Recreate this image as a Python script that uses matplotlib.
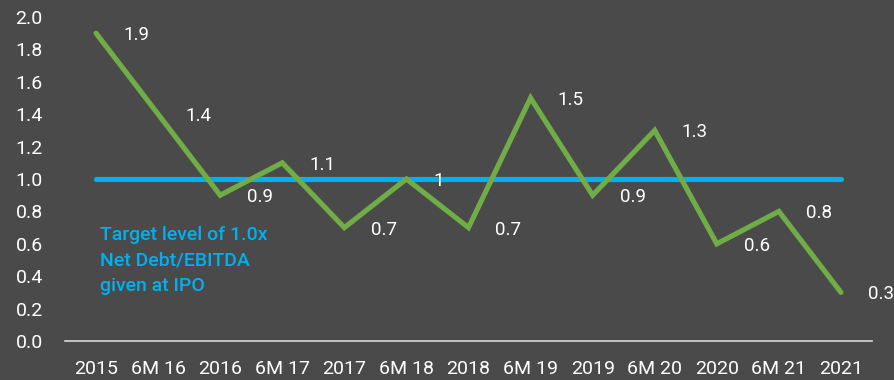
import matplotlib
matplotlib.use('Agg')
import matplotlib.pyplot as plt
from matplotlib.transforms import offset_copy

BG = '#4a4a4a'
C_LINE = '#70AD47'
C_TARGET = '#00B0F0'
C_TEXT = '#FFFFFF'
C_AXIS = '#D9D9D9'

periods = ['2015', '6M 16', '2016', '6M 17', '2017', '6M 18', '2018',
           '6M 19', '2019', '6M 20', '2020', '6M 21', '2021']
leverage = [1.9, 1.4, 0.9, 1.1, 0.7, 1.0, 0.7, 1.5, 0.9, 1.3, 0.6, 0.8, 0.3]
value_labels = ['1.9', '1.4', '0.9', '1.1', '0.7', '1', '0.7',
                '1.5', '0.9', '1.3', '0.6', '0.8', '0.3']
target = [1.0] * len(periods)
yticks = [0.0, 0.2, 0.4, 0.6, 0.8, 1.0, 1.2, 1.4, 1.6, 1.8, 2.0]

plt.rcParams['font.family'] = ['Roboto', 'DejaVu Sans']

fig = plt.figure(figsize=(8.95, 3.8), dpi=100)
fig.patch.set_facecolor(BG)
ax = fig.add_axes([65 / 895, 1 - 341 / 380, (872 - 65) / 895, (341 - 17) / 380])
ax.set_facecolor(BG)

x = list(range(len(periods)))
ax.plot(x, target, color=C_TARGET, lw=3.7, solid_capstyle='round', zorder=2)
ax.plot(x, leverage, color=C_LINE, lw=3.7, solid_capstyle='round',
        solid_joinstyle='miter', zorder=3)

# value labels sit to the right of each point
lbl_tr = offset_copy(ax.transData, fig=fig, x=27, y=-2, units='dots')
for xi, v, s in zip(x, leverage, value_labels):
    ax.text(xi, v, s, transform=lbl_tr, ha='left', va='center',
            fontsize=13.5, color=C_TEXT, zorder=4)

ax.text(0.07, 0.71, 'Target level of 1.0x\nNet Debt/EBITDA\ngiven at IPO',
        ha='left', va='top', fontsize=14, color=C_TARGET, fontweight='medium',
        linespacing=1.55, zorder=4)

ax.set_xlim(-0.5, len(periods) - 0.5)
ax.set_ylim(0, 2.0)
ax.set_xticks(x)
ax.set_xticklabels(periods)
ax.set_yticks(yticks)
ax.set_yticklabels([f'{t:.1f}' for t in yticks])
ax.tick_params(axis='both', length=0, labelsize=14, colors=C_TEXT)
ax.tick_params(axis='x', pad=14)
ax.tick_params(axis='y', pad=16)

for side in ['top', 'right', 'left']:
    ax.spines[side].set_visible(False)
ax.spines['bottom'].set_color(C_AXIS)
ax.spines['bottom'].set_linewidth(1.2)

fig.savefig('out.png', dpi=100, facecolor=fig.get_facecolor())
